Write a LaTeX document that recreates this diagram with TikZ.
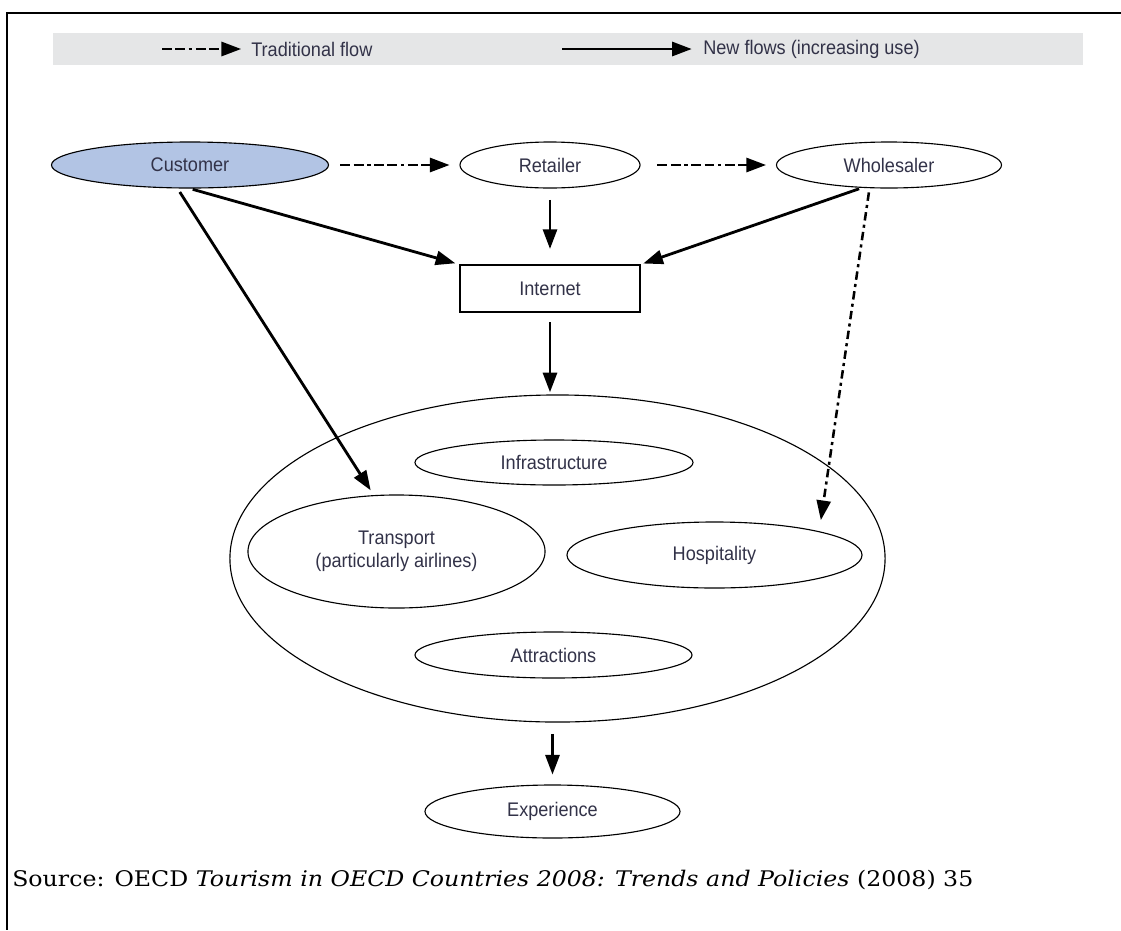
\documentclass[tikz,border=0pt]{standalone}
\usepackage{fontspec}
\usetikzlibrary{shapes.geometric,arrows.meta}
\newfontfamily\lblfont{Liberation Sans}[FakeStretch=0.92]
\newfontfamily\srcfont{DejaVu Serif}[FakeStretch=1.1]
\definecolor{lbltext}{RGB}{50,50,72}
\definecolor{custblue}{RGB}{178,196,228}
\definecolor{legendgray}{RGB}{229,230,231}

\begin{document}
\begin{tikzpicture}[x=0.025cm,y=-0.025cm]
                \tikzset{Oval/.style={ellipse, draw, line width=0.8pt, inner sep=0pt, align=center,
                                      font=\lblfont\fontsize{14}{16.5}\selectfont, text=lbltext},
                         Label/.style={font=\lblfont\fontsize{14}{16.5}\selectfont, text=lbltext, inner sep=0pt},
                         NewFlow/.style={line width=2pt, -{Triangle[length=14pt,width=10pt]}},
                         OldFlow/.style={line width=1.9pt, dash pattern=on 7pt off 2.5pt on 7pt off 2.5pt on 2.5pt off 2.5pt,
                                         -{Triangle[length=14pt,width=10pt]}},
                         DotFlow/.style={line width=1.8pt, dash pattern=on 6pt off 3pt on 2.2pt off 3pt,
                                         -{Triangle[length=14pt,width=10pt]}}}
                \useasboundingbox (0,0) rectangle (1121,930);
                \draw[line width=1.5pt] (1121,13) -- (7,13) -- (7,930);
                % legend
                \node[fill=legendgray, inner sep=0pt, minimum width=25.75cm, minimum height=0.8cm] (legend) at (568,49) {};
                \node[Label, anchor=west] (OldText) at (251,49) {Traditional flow};
                \node[Label, anchor=west] (NewText) at (703,49) {New flows (increasing use)};
                \coordinate (OldStart) at (162,49);
                \coordinate (NewStart) at (562,49);
                \draw[OldFlow] (OldStart) -- (OldText.west) [shorten >=7pt];
                \draw[NewFlow] (NewStart) -- (NewText.west) [shorten >=8pt];
                % top row
                \node[Oval, fill=custblue, minimum width=6.925cm, minimum height=1.15cm] (Customer) at (190,165) {Customer};
                \node[Oval, minimum width=4.5cm, minimum height=1.15cm] (Retailer) at (550,165) {Retailer};
                \node[Oval, minimum width=5.625cm, minimum height=1.15cm] (Wholesaler) at (889,165) {Wholesaler};
                \node[Label, draw=black, line width=0.8pt, minimum width=4.5cm, minimum height=1.175cm] (Internet) at (550,288.5) {Internet};
                % destination
                \node[Oval, minimum width=16.375cm, minimum height=8.175cm] (Destination) at (557.5,558.5) {};
                \node[Oval, minimum width=6.95cm, minimum height=1.125cm] (Infrastructure) at (554,462.5) {Infrastructure};
                \node[Oval, minimum width=7.425cm, minimum height=2.825cm] (Transport) at (396.5,551.5) {Transport\\(particularly airlines)};
                \node[Oval, minimum width=7.375cm, minimum height=1.65cm] (Hospitality) at (714.5,555) {Hospitality};
                \node[Oval, minimum width=6.925cm, minimum height=1.15cm] (Attractions) at (553.5,655) {Attractions};
                \node[Oval, minimum width=6.375cm, minimum height=1.325cm] (Experience) at (552.5,811.5) {Experience};
                % flows
                \draw[OldFlow, shorten <=8pt, shorten >=7pt] (Customer) -- (Retailer);
                \draw[OldFlow, shorten <=12pt, shorten >=7pt] (Retailer) -- (Wholesaler);
                \draw[NewFlow, shorten <=8pt, shorten >=11pt] (Retailer.south) -- (Retailer.south |- Internet.north);
                \draw[NewFlow, shorten <=2pt, shorten >=3pt] (Customer.south) -- (Internet.north west);
                \draw[NewFlow, shorten <=2pt, shorten >=2pt] (Wholesaler.-140) -- (Internet.north east);
                \draw[NewFlow, shorten <=3pt, shorten >=4pt] (Customer.-118) -- (Transport.112);
                \draw[DotFlow, shorten <=3pt, shorten >=8pt] (Wholesaler.-130) -- (Hospitality.north east);
                \draw[NewFlow, shorten <=7pt, shorten >=1.5pt] (Internet.south) -- (Internet.south |- Destination.north);
                \draw[NewFlow, shorten <=8pt, shorten >=7pt] (Experience.north |- Destination.south) -- (Experience.north);
                \node[anchor=base west, inner sep=0pt, font=\srcfont\fontsize{15.3}{18}\selectfont] (Source) at (12,886)
                     {Source: OECD \textit{Tourism in OECD Countries 2008: Trends and Policies} (2008) 35};
            \end{tikzpicture}
\end{document}
